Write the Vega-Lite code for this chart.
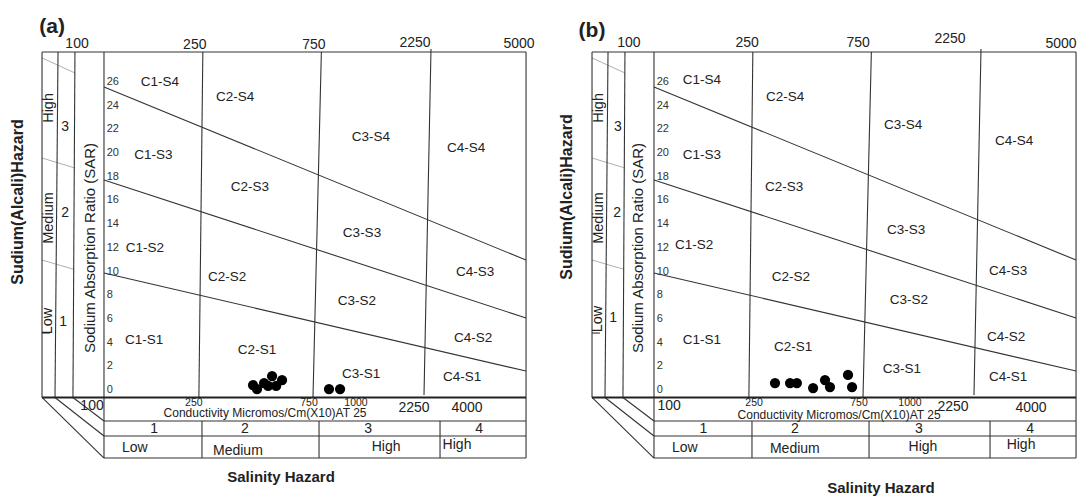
{
"$schema": "https://vega.github.io/schema/vega-lite/v6.json",
"padding": 0,
"autosize": {"type": "pad"},
"bounds": "flush",
"spacing": 22,
"config": {"view": {"stroke": null}, "axis": {"disable": true}, "font": "Liberation Sans", "text": {"font": "Liberation Sans", "color": "#222"}},
"data": {"values": [
{"p":"a","g":"line","ec":56.3,"sar":28.53,"ec2":5000,"sar2":28.53},
{"p":"a","g":"line","ec":5000,"sar":28.53,"ec2":5000,"sar2":-5.74},
{"p":"a","g":"line","ec":56.3,"sar":28.53,"ec2":56.3,"sar2":-0.63},
{"p":"a","g":"line","ec":65.3,"sar":28.53,"ec2":63.5,"sar2":-0.63},
{"p":"a","g":"line","ec":76.4,"sar":28.53,"ec2":75.0,"sar2":-0.63},
{"p":"a","g":"line","ec":100,"sar":28.53,"ec2":100,"sar2":-5.74},
{"p":"a","g":"bold","ec":56.3,"sar":-0.63,"ec2":5000,"sar2":-0.63},
{"p":"a","g":"line","ec":100,"sar":-2.62,"ec2":5000,"sar2":-2.62},
{"p":"a","g":"line","ec":100,"sar":-3.88,"ec2":5000,"sar2":-3.88},
{"p":"a","g":"line","ec":100,"sar":-5.74,"ec2":5000,"sar2":-5.74},
{"p":"a","g":"line","ec":56.3,"sar":-0.63,"ec2":100,"sar2":-5.74},
{"p":"a","g":"line","ec":63.5,"sar":-0.63,"ec2":100,"sar2":-3.88},
{"p":"a","g":"line","ec":75.0,"sar":-0.63,"ec2":100,"sar2":-2.62},
{"p":"a","g":"line","ec":250,"sar":28.53,"ec2":241,"sar2":-0.63},
{"p":"a","g":"line","ec":750,"sar":28.53,"ec2":694,"sar2":-0.63},
{"p":"a","g":"line","ec":2072,"sar":28.79,"ec2":1942,"sar2":-0.42},
{"p":"a","g":"line","ec":248,"sar":-2.62,"ec2":248,"sar2":-5.74},
{"p":"a","g":"line","ec":734,"sar":-2.62,"ec2":734,"sar2":-5.74},
{"p":"a","g":"line","ec":2253,"sar":-2.62,"ec2":2253,"sar2":-5.74},
{"p":"a","g":"line","ec":100,"sar":25.58,"ec2":5000,"sar2":10.97},
{"p":"a","g":"line","ec":100,"sar":17.73,"ec2":5000,"sar2":6.08},
{"p":"a","g":"line","ec":100,"sar":9.88,"ec2":5000,"sar2":1.60},
{"p":"a","g":"line","ec":56.3,"sar":4.81,"ec2":60.6,"sar2":4.81},
{"p":"a","g":"thin","ec":56.3,"sar":28.03,"ec2":76.4,"sar2":26.76},
{"p":"a","g":"thin","ec":56.3,"sar":19.58,"ec2":76.4,"sar2":18.74},
{"p":"a","g":"thin","ec":56.3,"sar":10.97,"ec2":75.0,"sar2":10.21},
{"p":"b","g":"line","ec":56.3,"sar":28.53,"ec2":5000,"sar2":28.53},
{"p":"b","g":"line","ec":5000,"sar":28.53,"ec2":5000,"sar2":-5.74},
{"p":"b","g":"line","ec":56.3,"sar":28.53,"ec2":56.3,"sar2":-0.63},
{"p":"b","g":"line","ec":65.3,"sar":28.53,"ec2":63.5,"sar2":-0.63},
{"p":"b","g":"line","ec":76.4,"sar":28.53,"ec2":75.0,"sar2":-0.63},
{"p":"b","g":"line","ec":100,"sar":28.53,"ec2":100,"sar2":-5.74},
{"p":"b","g":"bold","ec":56.3,"sar":-0.63,"ec2":5000,"sar2":-0.63},
{"p":"b","g":"line","ec":100,"sar":-2.62,"ec2":5000,"sar2":-2.62},
{"p":"b","g":"line","ec":100,"sar":-3.88,"ec2":5000,"sar2":-3.88},
{"p":"b","g":"line","ec":100,"sar":-5.74,"ec2":5000,"sar2":-5.74},
{"p":"b","g":"line","ec":56.3,"sar":-0.63,"ec2":100,"sar2":-5.74},
{"p":"b","g":"line","ec":63.5,"sar":-0.63,"ec2":100,"sar2":-3.88},
{"p":"b","g":"line","ec":75.0,"sar":-0.63,"ec2":100,"sar2":-2.62},
{"p":"b","g":"line","ec":250,"sar":28.53,"ec2":241,"sar2":-0.63},
{"p":"b","g":"line","ec":750,"sar":28.53,"ec2":694,"sar2":-0.63},
{"p":"b","g":"line","ec":2072,"sar":28.79,"ec2":1942,"sar2":-0.42},
{"p":"b","g":"line","ec":248,"sar":-2.62,"ec2":248,"sar2":-5.74},
{"p":"b","g":"line","ec":734,"sar":-2.62,"ec2":734,"sar2":-5.74},
{"p":"b","g":"line","ec":2253,"sar":-2.62,"ec2":2253,"sar2":-5.74},
{"p":"b","g":"line","ec":100,"sar":25.58,"ec2":5000,"sar2":10.97},
{"p":"b","g":"line","ec":100,"sar":17.73,"ec2":5000,"sar2":6.08},
{"p":"b","g":"line","ec":100,"sar":9.88,"ec2":5000,"sar2":1.60},
{"p":"b","g":"line","ec":56.3,"sar":4.81,"ec2":60.6,"sar2":4.81},
{"p":"b","g":"thin","ec":56.3,"sar":28.03,"ec2":76.4,"sar2":26.76},
{"p":"b","g":"thin","ec":56.3,"sar":19.58,"ec2":76.4,"sar2":18.74},
{"p":"b","g":"thin","ec":56.3,"sar":10.97,"ec2":75.0,"sar2":10.21},

{"p":"a","g":"dot","ec":398,"sar":0.42},
{"p":"a","g":"dot","ec":413,"sar":0.08},
{"p":"a","g":"dot","ec":441,"sar":0.59},
{"p":"a","g":"dot","ec":458,"sar":0.34},
{"p":"a","g":"dot","ec":475,"sar":1.18},
{"p":"a","g":"dot","ec":493,"sar":0.34},
{"p":"a","g":"dot","ec":521,"sar":0.84},
{"p":"a","g":"dot","ec":805,"sar":0.08},
{"p":"a","g":"dot","ec":892,"sar":0.08},
{"p":"b","g":"dot","ec":307,"sar":0.59},
{"p":"b","g":"dot","ec":353,"sar":0.59},
{"p":"b","g":"dot","ec":376,"sar":0.59},
{"p":"b","g":"dot","ec":437,"sar":0.17},
{"p":"b","g":"dot","ec":488,"sar":0.84},
{"p":"b","g":"dot","ec":511,"sar":0.25},
{"p":"b","g":"dot","ec":604,"sar":1.27},
{"p":"b","g":"dot","ec":627,"sar":0.25},

{"p":"a","g":"zone","t":"C1-S4","ec":168,"sar":26.00},
{"p":"a","g":"zone","t":"C2-S4","ec":337,"sar":24.73},
{"p":"a","g":"zone","t":"C1-S3","ec":158,"sar":19.84},
{"p":"a","g":"zone","t":"C2-S3","ec":387,"sar":17.14},
{"p":"a","g":"zone","t":"C1-S2","ec":146,"sar":11.99},
{"p":"a","g":"zone","t":"C2-S2","ec":313,"sar":9.54},
{"p":"a","g":"zone","t":"C1-S1","ec":145,"sar":4.22},
{"p":"a","g":"zone","t":"C2-S1","ec":413,"sar":3.38},
{"p":"a","g":"zone","t":"C3-S4","ec":1188,"sar":21.36},
{"p":"a","g":"zone","t":"C4-S4","ec":2867,"sar":20.43},
{"p":"a","g":"zone","t":"C3-S3","ec":1093,"sar":13.25},
{"p":"a","g":"zone","t":"C3-S2","ec":1043,"sar":7.51},
{"p":"a","g":"zone","t":"C4-S3","ec":3116,"sar":9.96},
{"p":"a","g":"zone","t":"C4-S2","ec":3059,"sar":4.39},
{"p":"a","g":"zone","t":"C3-S1","ec":1083,"sar":1.35},
{"p":"a","g":"zone","t":"C4-S1","ec":2762,"sar":1.10},
{"p":"b","g":"zone","t":"C1-S4","ec":156,"sar":26.17},
{"p":"b","g":"zone","t":"C2-S4","ec":337,"sar":24.73},
{"p":"b","g":"zone","t":"C1-S3","ec":156,"sar":19.84},
{"p":"b","g":"zone","t":"C2-S3","ec":334,"sar":17.14},
{"p":"b","g":"zone","t":"C1-S2","ec":145,"sar":12.24},
{"p":"b","g":"zone","t":"C2-S2","ec":356,"sar":9.54},
{"p":"b","g":"zone","t":"C1-S1","ec":156,"sar":4.22},
{"p":"b","g":"zone","t":"C2-S1","ec":363,"sar":3.63},
{"p":"b","g":"zone","t":"C3-S4","ec":1006,"sar":22.37},
{"p":"b","g":"zone","t":"C4-S4","ec":2814,"sar":21.02},
{"p":"b","g":"zone","t":"C3-S3","ec":1034,"sar":13.51},
{"p":"b","g":"zone","t":"C3-S2","ec":1063,"sar":7.60},
{"p":"b","g":"zone","t":"C4-S3","ec":2662,"sar":10.05},
{"p":"b","g":"zone","t":"C4-S2","ec":2613,"sar":4.47},
{"p":"b","g":"zone","t":"C3-S1","ec":996,"sar":1.77},
{"p":"b","g":"zone","t":"C4-S1","ec":2662,"sar":1.10},

{"p":"a","g":"sar","t":"0","ec":102.5,"sar":0},
{"p":"a","g":"sar","t":"2","ec":102.5,"sar":2},
{"p":"a","g":"sar","t":"4","ec":102.5,"sar":4},
{"p":"a","g":"sar","t":"6","ec":102.5,"sar":6},
{"p":"a","g":"sar","t":"8","ec":102.5,"sar":8},
{"p":"a","g":"sar","t":"10","ec":102.5,"sar":10},
{"p":"a","g":"sar","t":"12","ec":102.5,"sar":12},
{"p":"a","g":"sar","t":"14","ec":102.5,"sar":14},
{"p":"a","g":"sar","t":"16","ec":102.5,"sar":16},
{"p":"a","g":"sar","t":"18","ec":102.5,"sar":18},
{"p":"a","g":"sar","t":"20","ec":102.5,"sar":20},
{"p":"a","g":"sar","t":"22","ec":102.5,"sar":22},
{"p":"a","g":"sar","t":"24","ec":102.5,"sar":24},
{"p":"a","g":"sar","t":"26","ec":102.5,"sar":26},
{"p":"b","g":"sar","t":"0","ec":102.5,"sar":0},
{"p":"b","g":"sar","t":"2","ec":102.5,"sar":2},
{"p":"b","g":"sar","t":"4","ec":102.5,"sar":4},
{"p":"b","g":"sar","t":"6","ec":102.5,"sar":6},
{"p":"b","g":"sar","t":"8","ec":102.5,"sar":8},
{"p":"b","g":"sar","t":"10","ec":102.5,"sar":10},
{"p":"b","g":"sar","t":"12","ec":102.5,"sar":12},
{"p":"b","g":"sar","t":"14","ec":102.5,"sar":14},
{"p":"b","g":"sar","t":"16","ec":102.5,"sar":16},
{"p":"b","g":"sar","t":"18","ec":102.5,"sar":18},
{"p":"b","g":"sar","t":"20","ec":102.5,"sar":20},
{"p":"b","g":"sar","t":"22","ec":102.5,"sar":22},
{"p":"b","g":"sar","t":"24","ec":102.5,"sar":24},
{"p":"b","g":"sar","t":"26","ec":102.5,"sar":26},

{"p":"a","g":"top","t":"100","ec":77.9,"sar":29.21},
{"p":"a","g":"top","t":"250","ec":232,"sar":29.12},
{"p":"a","g":"top","t":"750","ec":700,"sar":29.12},
{"p":"a","g":"top","t":"2250","ec":1787,"sar":29.29},
{"p":"a","g":"top","t":"5000","ec":4685,"sar":29.21},
{"p":"b","g":"top","t":"100","ec":79.3,"sar":29.29},
{"p":"b","g":"top","t":"250","ec":237,"sar":29.29},
{"p":"b","g":"top","t":"750","ec":663,"sar":29.29},
{"p":"b","g":"top","t":"2250","ec":1554,"sar":29.63},
{"p":"b","g":"top","t":"5000","ec":4350,"sar":29.21},

{"p":"a","g":"small","t":"250","ec":230,"sar":-1.10},
{"p":"a","g":"small","t":"750","ec":669,"sar":-1.10},
{"p":"a","g":"small","t":"1000","ec":1034,"sar":-1.10},
{"p":"b","g":"small","t":"250","ec":253,"sar":-1.10},
{"p":"b","g":"small","t":"750","ec":669,"sar":-1.10},
{"p":"b","g":"small","t":"1000","ec":1073,"sar":-1.10},

{"p":"a","g":"mid","t":"100","ec":89.5,"sar":-1.35},
{"p":"a","g":"mid","t":"2250","ec":1770,"sar":-1.52},
{"p":"a","g":"mid","t":"4000","ec":2893,"sar":-1.52},
{"p":"a","g":"mid","t":"1","ec":159,"sar":-3.29},
{"p":"a","g":"mid","t":"2","ec":369,"sar":-3.29},
{"p":"a","g":"mid","t":"3","ec":1156,"sar":-3.29},
{"p":"a","g":"mid","t":"4","ec":3234,"sar":-3.29},
{"p":"a","g":"mid","t":"Low","ec":133,"sar":-4.90},
{"p":"a","g":"mid","t":"Medium","ec":346,"sar":-5.15},
{"p":"a","g":"mid","t":"High","ec":1366,"sar":-4.81},
{"p":"a","g":"mid","t":"High","ec":2637,"sar":-4.64},
{"p":"a","g":"mid","t":"3","ec":69.7,"sar":22.20},
{"p":"a","g":"mid","t":"2","ec":69.7,"sar":14.94},
{"p":"a","g":"mid","t":"1","ec":68.4,"sar":5.74},
{"p":"b","g":"mid","t":"100","ec":115,"sar":-1.35},
{"p":"b","g":"mid","t":"2250","ec":1598,"sar":-1.45},
{"p":"b","g":"mid","t":"4000","ec":3294,"sar":-1.52},
{"p":"b","g":"mid","t":"1","ec":158,"sar":-3.32},
{"p":"b","g":"mid","t":"2","ec":369,"sar":-3.32},
{"p":"b","g":"mid","t":"3","ec":1166,"sar":-3.32},
{"p":"b","g":"mid","t":"4","ec":3264,"sar":-3.32},
{"p":"b","g":"mid","t":"Low","ec":133,"sar":-4.90},
{"p":"b","g":"mid","t":"Medium","ec":369,"sar":-4.98},
{"p":"b","g":"mid","t":"High","ec":1210,"sar":-4.81},
{"p":"b","g":"mid","t":"High","ec":3003,"sar":-4.64},
{"p":"b","g":"mid","t":"3","ec":71.6,"sar":22.20},
{"p":"b","g":"mid","t":"2","ec":71.0,"sar":14.94},
{"p":"b","g":"mid","t":"1","ec":68.4,"sar":6.08},

{"p":"a","g":"cap","t":"Conductivity Micromos/Cm(X10)AT 25","ec":445,"sar":-1.94},
{"p":"b","g":"cap","t":"Conductivity Micromos/Cm(X10)AT 25","ec":556,"sar":-2.12},

{"p":"a","g":"rot","t":"High","ec":60.1,"sar":23.81},
{"p":"a","g":"rot","t":"Medium","ec":60.1,"sar":14.52},
{"p":"a","g":"rot","t":"Low","ec":59.5,"sar":5.82},
{"p":"b","g":"rot","t":"High","ec":60.1,"sar":23.81},
{"p":"b","g":"rot","t":"Medium","ec":60.1,"sar":14.52},
{"p":"b","g":"rot","t":"Low","ec":59.5,"sar":5.99},
{"p":"a","g":"sart","t":"Sodium Absorption Ratio (SAR)","ec":87.8,"sar":11.99},
{"p":"b","g":"sart","t":"Sodium Absorption Ratio (SAR)","ec":86.2,"sar":11.99},

{"p":"a","g":"ytitle","t":"Sudium(Alcali)Hazard","ec":45.1,"sar":15.87},
{"p":"b","g":"ytitle","t":"Sudium(Alcali)Hazard","ec":44.7,"sar":16.29},
{"p":"a","g":"xtitle","t":"Salinity Hazard","ec":516,"sar":-7.34},
{"p":"b","g":"xtitle","t":"Salinity Hazard","ec":820,"sar":-8.27},
{"p":"a","g":"tag","t":"(a)","ec":61.8,"sar":30.64},
{"p":"b","g":"tag","t":"(b)","ec":56.3,"sar":30.31}
]},
"facet": {"column": {"field": "p", "type": "nominal", "header": null}},
"spec": {
  "width": 528,
  "height": 497,
  "encoding": {
    "x": {"field": "ec", "type": "quantitative", "scale": {"type": "log", "domain": [38.14, 5092], "nice": false, "zero": false}, "axis": null},
    "y": {"field": "sar", "type": "quantitative", "scale": {"type": "linear", "domain": [-9.03, 32.92], "nice": false, "zero": false}, "axis": null}
  },
  "layer": [
    {"transform": [{"filter": "datum.g === 'thin'"}], "mark": {"type": "rule", "color": "#9a9a9a", "strokeWidth": 0.8},
     "encoding": {"x2": {"field": "ec2"}, "y2": {"field": "sar2"}}},
    {"transform": [{"filter": "datum.g === 'line'"}], "mark": {"type": "rule", "color": "#333333", "strokeWidth": 1.1},
     "encoding": {"x2": {"field": "ec2"}, "y2": {"field": "sar2"}}},
    {"transform": [{"filter": "datum.g === 'bold'"}], "mark": {"type": "rule", "color": "#222222", "strokeWidth": 1.8},
     "encoding": {"x2": {"field": "ec2"}, "y2": {"field": "sar2"}}},
    {"transform": [{"filter": "datum.g === 'dot'"}], "mark": {"type": "point", "shape": "circle", "filled": true, "color": "#000000", "opacity": 1, "size": 105}},
    {"transform": [{"filter": "datum.g === 'zone'"}], "mark": {"type": "text", "fontSize": 13.5, "align": "center", "baseline": "middle"},
     "encoding": {"text": {"field": "t"}}},
    {"transform": [{"filter": "datum.g === 'sar'"}], "mark": {"type": "text", "fontSize": 11, "align": "left", "baseline": "middle", "color": "#333"},
     "encoding": {"text": {"field": "t"}}},
    {"transform": [{"filter": "datum.g === 'top'"}], "mark": {"type": "text", "fontSize": 14, "align": "center", "baseline": "middle"},
     "encoding": {"text": {"field": "t"}}},
    {"transform": [{"filter": "datum.g === 'small'"}], "mark": {"type": "text", "fontSize": 10.5, "align": "center", "baseline": "middle"},
     "encoding": {"text": {"field": "t"}}},
    {"transform": [{"filter": "datum.g === 'mid'"}], "mark": {"type": "text", "fontSize": 14, "align": "center", "baseline": "middle"},
     "encoding": {"text": {"field": "t"}}},
    {"transform": [{"filter": "datum.g === 'cap'"}], "mark": {"type": "text", "fontSize": 12, "align": "center", "baseline": "middle"},
     "encoding": {"text": {"field": "t"}}},
    {"transform": [{"filter": "datum.g === 'rot'"}], "mark": {"type": "text", "fontSize": 14.5, "angle": 270, "align": "center", "baseline": "middle"},
     "encoding": {"text": {"field": "t"}}},
    {"transform": [{"filter": "datum.g === 'sart'"}], "mark": {"type": "text", "fontSize": 15, "angle": 270, "align": "center", "baseline": "middle"},
     "encoding": {"text": {"field": "t"}}},
    {"transform": [{"filter": "datum.g === 'ytitle'"}], "mark": {"type": "text", "fontSize": 16, "fontWeight": "bold", "angle": 270, "align": "center", "baseline": "middle"},
     "encoding": {"text": {"field": "t"}}},
    {"transform": [{"filter": "datum.g === 'xtitle'"}], "mark": {"type": "text", "fontSize": 15, "fontWeight": "bold", "align": "center", "baseline": "middle"},
     "encoding": {"text": {"field": "t"}}},
    {"transform": [{"filter": "datum.g === 'tag'"}], "mark": {"type": "text", "fontSize": 21, "fontWeight": "bold", "align": "center", "baseline": "middle"},
     "encoding": {"text": {"field": "t"}}}
  ]
}
}
